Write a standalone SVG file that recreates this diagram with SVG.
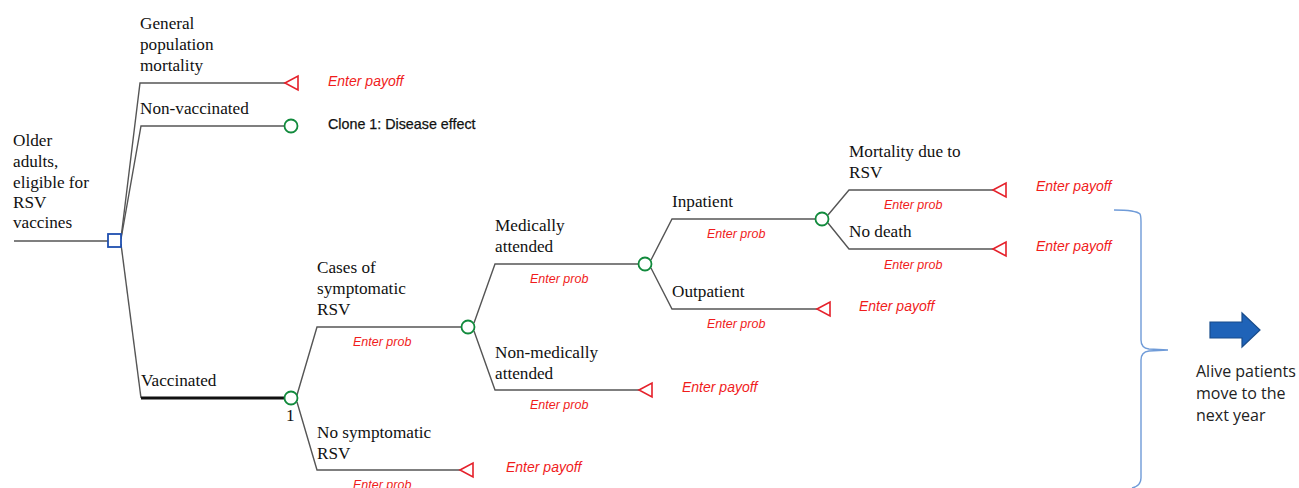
<svg xmlns="http://www.w3.org/2000/svg" width="1299" height="488" viewBox="0 0 1299 488">
<style>
.br{fill:none;stroke:#555;stroke-width:1.4}
.lbl{font-family:"Liberation Serif","Times New Roman",serif;font-size:17.2px;fill:#111}
.prob{font-family:"Liberation Sans",Arial,sans-serif;font-size:12.5px;font-style:italic;fill:#f01c1c}
.pay{font-family:"Liberation Sans",Arial,sans-serif;font-size:14px;font-style:italic;fill:#f01c1c}
.chance{fill:#fff;stroke:#118a3c;stroke-width:1.8}
.term{fill:#fff;stroke:#e5202a;stroke-width:1.6}
.dec{fill:#fff;stroke:#1f4fb0;stroke-width:1.8}
.cal{font-family:"Open Sans","Noto Sans",sans-serif;font-size:16px;fill:#222}
</style>
<rect width="1299" height="488" fill="#fff"/>
<g id="connectors">
<path class="br" d="M14 241H108"/>
<path class="br" d="M121 238L140 83H285"/>
<path class="br" d="M121 239L141 126H284"/>
<path class="br" d="M121 244L141 398"/>
<path d="M141 398H284" fill="none" stroke="#111" stroke-width="3"/>
<path class="br" d="M297 395L317 327H461"/>
<path class="br" d="M297 402L317 470H460"/>
<path class="br" d="M474 323L495 264H638"/>
<path class="br" d="M474 331L495 390H639"/>
<path class="br" d="M651 260L672 219H815"/>
<path class="br" d="M651 268L672 309H817"/>
<path class="br" d="M828 215L849 190H993"/>
<path class="br" d="M828 223L849 249H993"/>
</g>
<g id="root">
<text class="lbl" x="13" y="146">Older</text>
<text class="lbl" x="13" y="167">adults,</text>
<text class="lbl" x="13" y="188">eligible for</text>
<text class="lbl" x="13" y="208">RSV</text>
<text class="lbl" x="13" y="228">vaccines</text>
<rect class="dec" x="108" y="234" width="13" height="13"/>
</g>
<g id="general-mortality">
<text class="lbl" x="140" y="29">General</text>
<text class="lbl" x="140" y="50">population</text>
<text class="lbl" x="140" y="71">mortality</text>
<path class="term" d="M285 83L298 76V90Z"/>
<text class="pay" x="328" y="86">Enter payoff</text>
</g>
<g id="non-vaccinated">
<text class="lbl" x="140" y="114">Non-vaccinated</text>
<circle class="chance" cx="291" cy="126" r="6.5"/>
<text x="328" y="129" font-family="'Liberation Sans',Arial,sans-serif" font-size="14.3" fill="#111" stroke="#111" stroke-width="0.25">Clone 1: Disease effect</text>
</g>
<g id="vaccinated">
<text class="lbl" x="141" y="386">Vaccinated</text>
<circle class="chance" cx="291" cy="398" r="6.5"/>
<text class="lbl" x="286" y="421">1</text>
</g>
<g id="cases-symptomatic">
<text class="lbl" x="317" y="273">Cases of</text>
<text class="lbl" x="317" y="294">symptomatic</text>
<text class="lbl" x="317" y="315">RSV</text>
<text class="prob" x="353" y="346">Enter prob</text>
<circle class="chance" cx="468" cy="327" r="6.5"/>
</g>
<g id="no-symptomatic">
<text class="lbl" x="317" y="438">No symptomatic</text>
<text class="lbl" x="317" y="459">RSV</text>
<text class="prob" x="353" y="489">Enter prob</text>
<path class="term" d="M460 470L473 463V477Z"/>
<text class="pay" x="506" y="472">Enter payoff</text>
</g>
<g id="medically-attended">
<text class="lbl" x="495" y="231">Medically</text>
<text class="lbl" x="495" y="252">attended</text>
<text class="prob" x="530" y="283">Enter prob</text>
<circle class="chance" cx="645" cy="264" r="6.5"/>
</g>
<g id="non-medically-attended">
<text class="lbl" x="495" y="358">Non-medically</text>
<text class="lbl" x="495" y="379">attended</text>
<text class="prob" x="530" y="409">Enter prob</text>
<path class="term" d="M639 390L652 383V397Z"/>
<text class="pay" x="682" y="392">Enter payoff</text>
</g>
<g id="inpatient">
<text class="lbl" x="672" y="207">Inpatient</text>
<text class="prob" x="707" y="238">Enter prob</text>
<circle class="chance" cx="822" cy="219" r="6.5"/>
</g>
<g id="outpatient">
<text class="lbl" x="672" y="297">Outpatient</text>
<text class="prob" x="707" y="328">Enter prob</text>
<path class="term" d="M817 309L830 302V316Z"/>
<text class="pay" x="859" y="311">Enter payoff</text>
</g>
<g id="mortality-rsv">
<text class="lbl" x="849" y="157">Mortality due to</text>
<text class="lbl" x="849" y="178">RSV</text>
<text class="prob" x="884" y="209">Enter prob</text>
<path class="term" d="M993 190L1006 183V197Z"/>
<text class="pay" x="1036" y="191">Enter payoff</text>
</g>
<g id="no-death">
<text class="lbl" x="849" y="237">No death</text>
<text class="prob" x="884" y="269">Enter prob</text>
<path class="term" d="M993 249L1006 242V256Z"/>
<text class="pay" x="1036" y="251">Enter payoff</text>
</g>
<g id="brace">
<path d="M1114 210Q1136 210 1140 214Q1141 216 1141 222V340Q1141 348 1149 349L1168 350L1149 351Q1141 352 1141 360V478Q1141 486 1132 488" fill="none" stroke="#6f9bd8" stroke-width="1.4"/>
</g>
<g id="next-year">
<path d="M1210 322H1242V313L1260 330L1242 347V338H1210Z" fill="#1f63b8" stroke="#184c8c" stroke-width="1.2"/>
<text class="cal" x="1196" y="377">Alive patients</text>
<text class="cal" x="1196" y="399">move to the</text>
<text class="cal" x="1196" y="421">next year</text>
</g>
</svg>
